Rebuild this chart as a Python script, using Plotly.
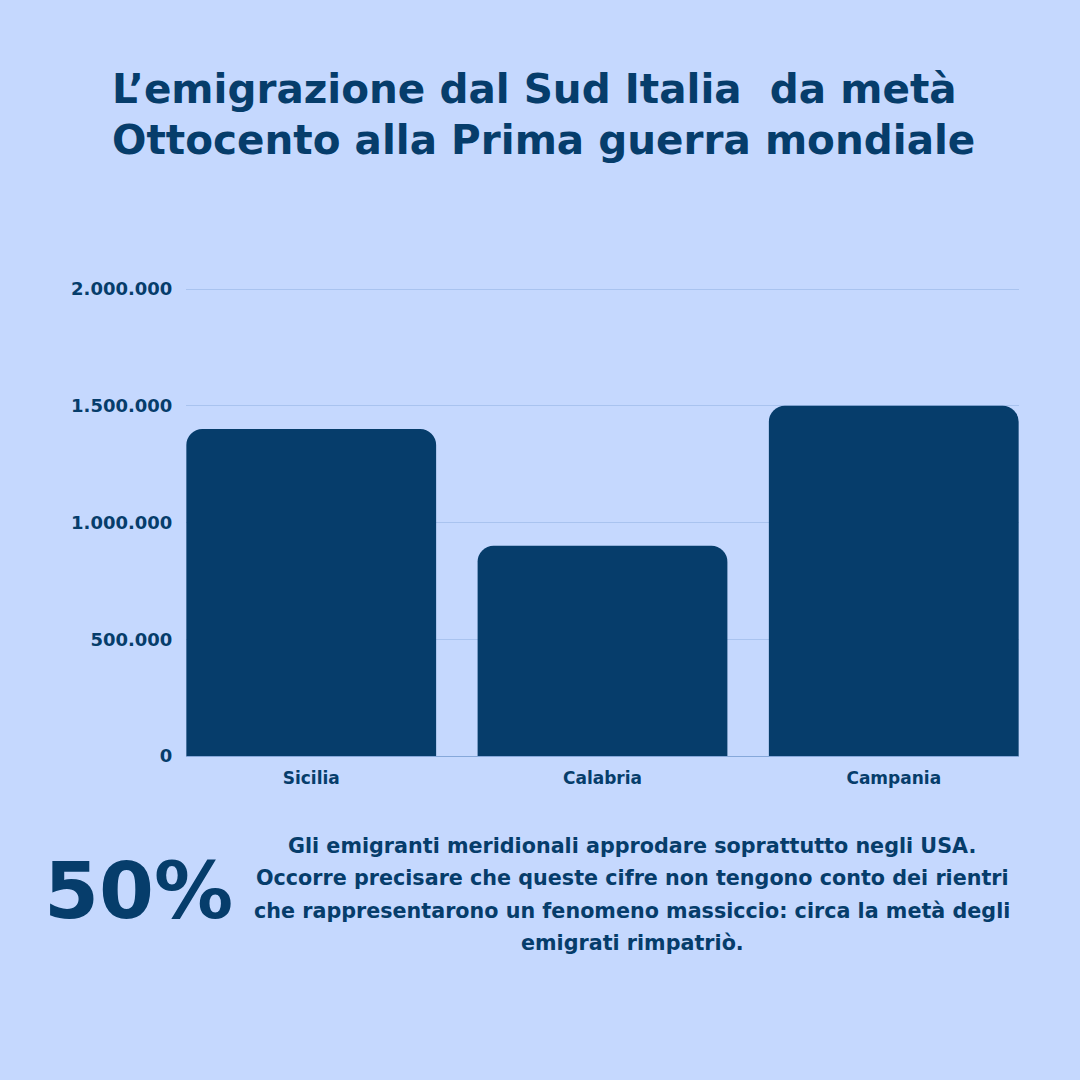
import plotly.graph_objects as go

regions = ["Sicilia", "Calabria", "Campania"]
emigrants = [1400000, 900000, 1500000]
y_ticks = [0, 500000, 1000000, 1500000, 2000000]
y_tick_labels = ["0", "500.000", "1.000.000", "1.500.000", "2.000.000"]

title_lines = ["L\u2019emigrazione dal Sud Italia  da metà",
               "Ottocento alla Prima guerra mondiale"]
big_number = "50%"
note_lines = ["Gli emigranti meridionali approdare soprattutto negli USA.",
              "Occorre precisare che queste cifre non tengono conto dei rientri",
              "che rappresentarono un fenomeno massiccio: circa la metà degli",
              "emigrati rimpatriò."]

BG = "#C5D8FE"
NAVY = "#063D6B"

fig = go.Figure(go.Bar(
    x=regions, y=emigrants, marker=dict(color=NAVY, line=dict(width=0)),
    hoverinfo="skip",
))

def py(px):
    return 1 - px / 1080

tick_font = dict(family="DejaVu Sans", size=18, color=NAVY, weight="bold")

fig.update_layout(
    width=1080, height=1080,
    paper_bgcolor=BG, plot_bgcolor=BG,
    margin=dict(l=0, r=0, t=0, b=0, autoexpand=False),
    showlegend=False,
    bargap=0.1424,
    barcornerradius=16,
    xaxis=dict(domain=[186/1080, 1019/1080], range=[-0.43, 2.43], showgrid=False,
               automargin=False,
               showline=True, linecolor="#86A8DA", linewidth=1,
               ticks="outside", ticklen=7, tickcolor="rgba(0,0,0,0)",
               tickfont=dict(family="DejaVu Sans", size=17, color=NAVY, weight="bold"),
               fixedrange=True),
    yaxis=dict(domain=[py(756), py(286.7)], range=[0, 2010000],
               automargin=False,
               tickvals=y_ticks, ticktext=y_tick_labels,
               showgrid=True, gridcolor="#A9C3EF", gridwidth=1,
               zeroline=False, showline=False,
               ticks="outside", ticklen=9, tickcolor="rgba(0,0,0,0)",
               tickfont=tick_font,
               fixedrange=True),
)

annotations = [
    dict(text=title_lines[0], x=110/1080, y=py(88.5), xanchor="left", yanchor="middle",
         font=dict(family="DejaVu Sans", size=40.5, color=NAVY, weight="bold")),
    dict(text=title_lines[1], x=110/1080, y=py(140), xanchor="left", yanchor="middle",
         font=dict(family="DejaVu Sans", size=40.5, color=NAVY, weight="bold")),
    dict(text=big_number, x=138/1080, y=py(890.5), xanchor="center", yanchor="middle",
         font=dict(family="DejaVu Sans", size=79, color=NAVY, weight="bold")),
]
note_y = [845.5, 878, 910.5, 943]
for line, yy in zip(note_lines, note_y):
    annotations.append(dict(text=line, x=632/1080, y=py(yy), xanchor="center",
                            yanchor="middle", align="center",
                            font=dict(family="DejaVu Sans", size=20.7, color=NAVY, weight="bold")))
for a in annotations:
    a.update(xref="paper", yref="paper", showarrow=False)
fig.update_layout(annotations=annotations)

fig.write_html("out.html", config={"displayModeBar": False})
